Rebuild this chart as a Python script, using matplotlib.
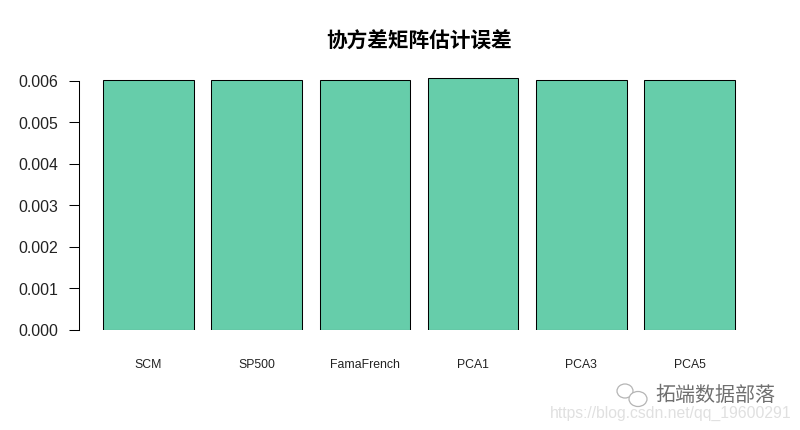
import matplotlib
matplotlib.use("Agg")
import matplotlib.pyplot as plt
from matplotlib.patches import Ellipse

categories = ["SCM", "SP500", "FamaFrench", "PCA1", "PCA3", "PCA5"]
errors = [0.00601, 0.00601, 0.00601, 0.00606, 0.00601, 0.00601]
yticks = [0.000, 0.001, 0.002, 0.003, 0.004, 0.005, 0.006]
title = "协方差矩阵估计误差"
watermark = "拓端数据部落"
url = "https://blog.csdn.net/qq_19600291"

W, H = 800, 431
plt.rcParams["font.family"] = ["Liberation Sans", "Noto Sans CJK SC", "DejaVu Sans"]
fig = plt.figure(figsize=(W / 100, H / 100), dpi=100, facecolor="white")

left, right, bottom, top = 78.5, 760, 330.5, 70
ax = fig.add_axes([left / W, 1 - bottom / H, (right - left) / W, (bottom - top) / H])
ax.patch.set_alpha(0)
scale = 108.2
ax.set_xlim((left - 148.5) / scale, (right - 148.5) / scale)
ax.set_ylim(0, (bottom - top) / 249 * 0.006)

x = list(range(len(categories)))
ax.bar(x, errors, width=0.836, color="#66CDAA", edgecolor="black", linewidth=0.75, zorder=3)

for s in ["top", "right", "bottom"]:
    ax.spines[s].set_visible(False)
ax.spines["left"].set_bounds(0, 0.006)
ax.spines["left"].set_linewidth(0.75)
ax.set_yticks(yticks, [f"{v:.3f}" for v in yticks])
ax.tick_params(axis="y", length=7, width=0.75, pad=7.5, labelsize=11.4, labelcolor="#222222")
ax.set_xticks(x, categories)
ax.tick_params(axis="x", length=0, pad=20.5, labelsize=8.8, labelcolor="#222222")
for lab in ax.get_xticklabels():
    lab.set_x(lab.get_position()[0])

fig.text(419 / W, 1 - 41 / H, title, ha="center", va="center", fontsize=14.9,
         fontweight="bold", family=["Noto Sans CJK SC"], color="black")

# watermark
fig.text(715 / W, 1 - 395 / H, watermark, ha="center", va="center", fontsize=14.4,
         family=["Noto Sans CJK SC"], color="#6f6f6f")
fig.text(671 / W, 1 - 413 / H, url, ha="center", va="center", fontsize=11.3, color="#e0e0e0")
for cx, cy, rx, ry in [(625, 392, 8, 7), (638, 400, 9, 7.5)]:
    fig.add_artist(Ellipse((cx / W, 1 - cy / H), 2 * rx / W, 2 * ry / H, facecolor="white",
                           edgecolor="#b5b5b5", linewidth=0.9, transform=fig.transFigure))

fig.savefig("out.png", dpi=100)
